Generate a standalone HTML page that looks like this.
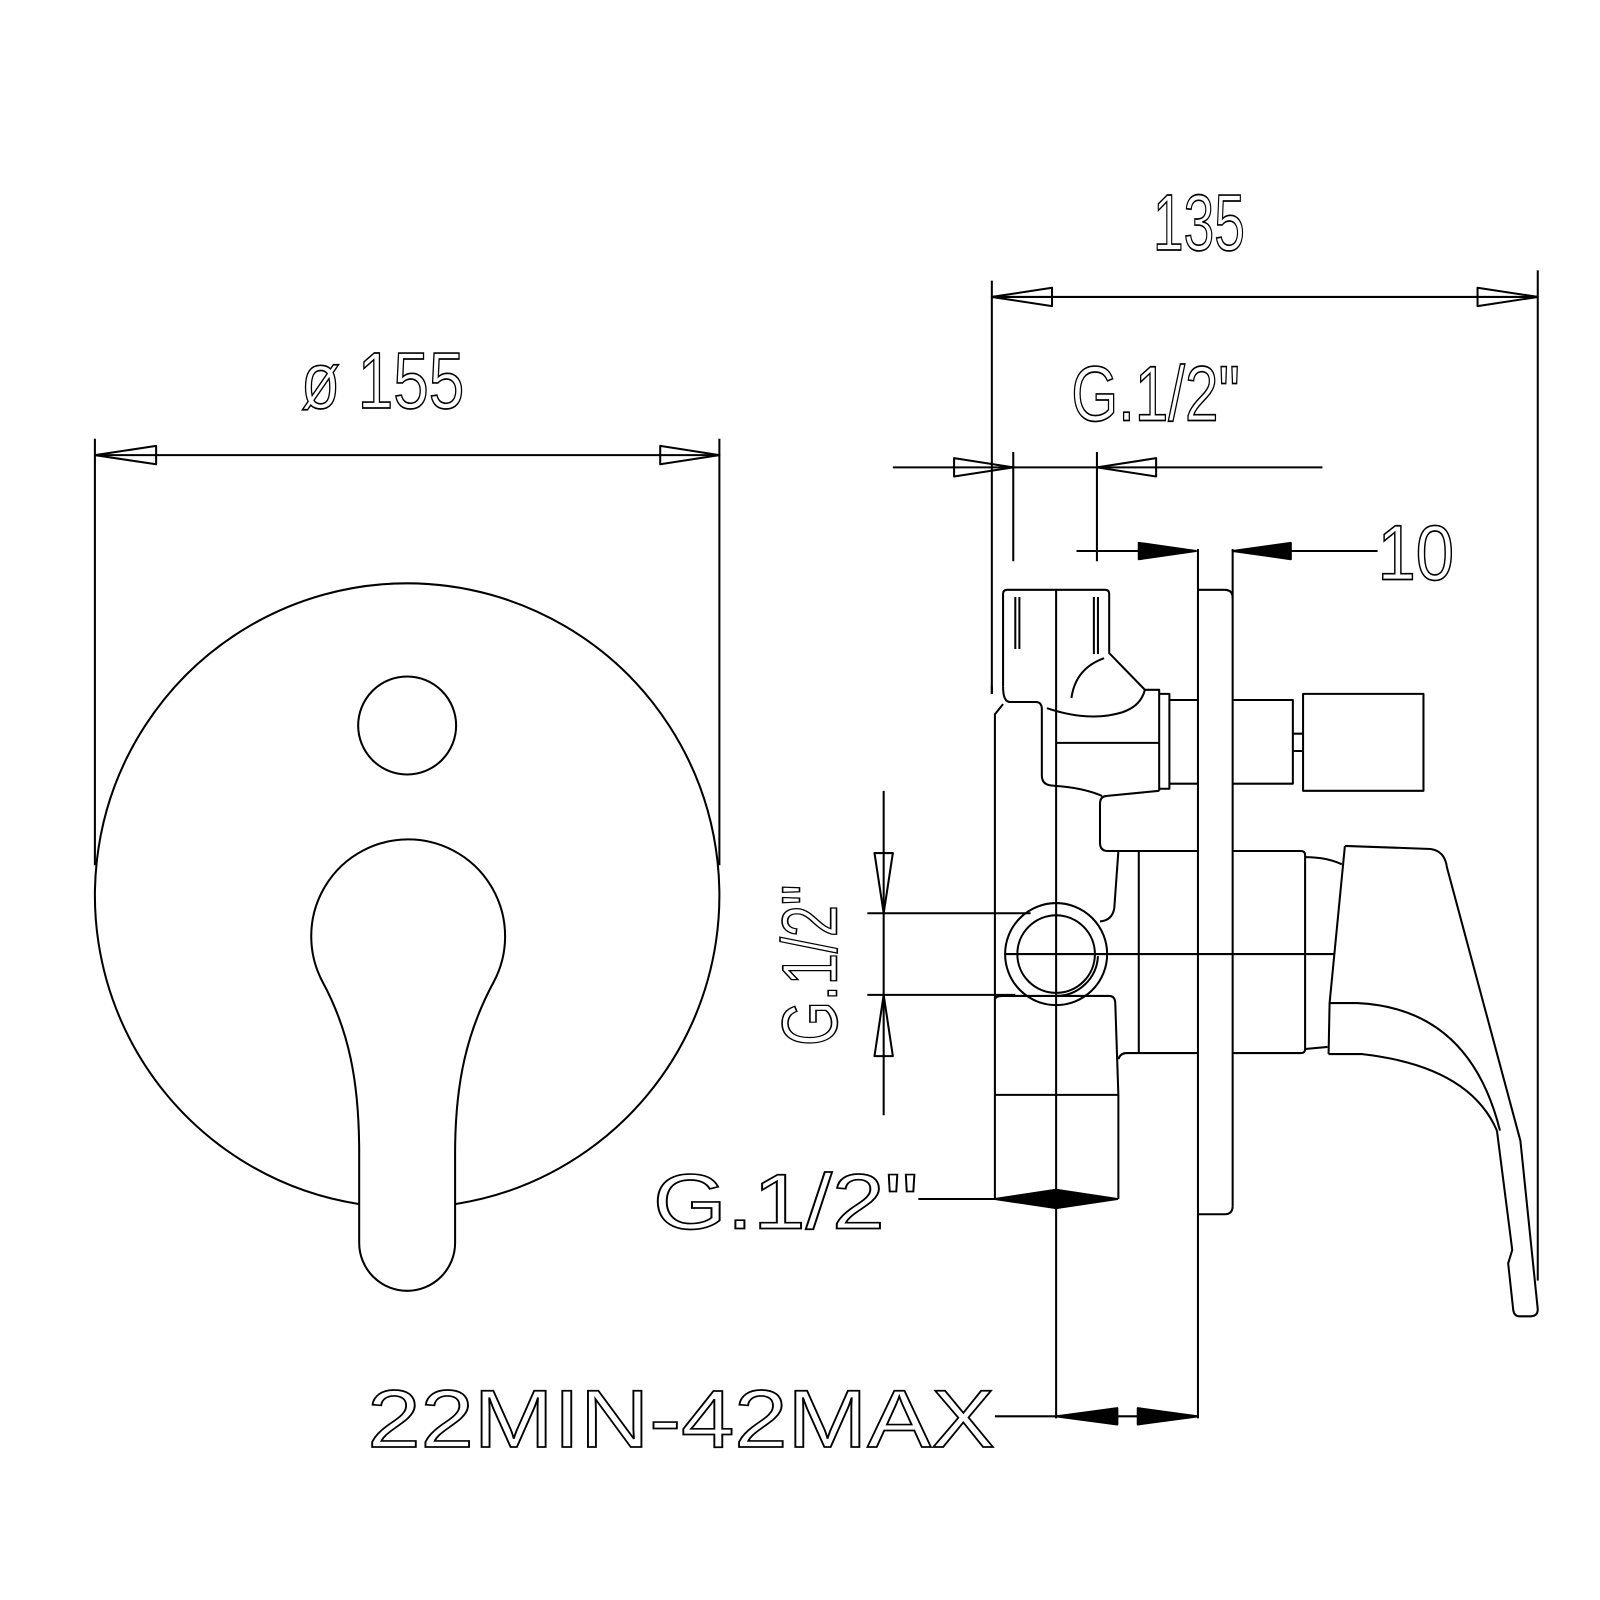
<!DOCTYPE html>
<html><head><meta charset="utf-8"><style>html,body{margin:0;padding:0;background:#fff}svg{display:block}</style></head>
<body>
<svg width="1600" height="1600" viewBox="0 0 1568 1568" xmlns="http://www.w3.org/2000/svg">
<g fill="none" stroke="#000" stroke-width="2" stroke-linejoin="round">
<!-- LEFT VIEW -->
<line x1="93" y1="430" x2="93" y2="848"/>
<line x1="705" y1="430" x2="705" y2="848"/>
<line x1="93" y1="446" x2="705" y2="446"/>
<polygon points="93,446 153,437 153,455"/>
<polygon points="705,446 647,437 647,455"/>
<path d="M352 1180 A306 306 0 1 1 446 1180"/>
<circle cx="399" cy="711" r="48"/>
<path d="M352 1218 L352 1130 C352 1060 342 1010 316 962 A95 95 0 1 1 484 962 C458 1010 446 1060 446 1130 L446 1218 A47 47 0 0 1 352 1218 Z"/>

<!-- RIGHT VIEW dims -->
<line x1="972" y1="275" x2="972" y2="680"/>
<line x1="1507" y1="265" x2="1507" y2="1255"/>
<line x1="972" y1="291" x2="1507" y2="291"/>
<polygon points="972,291 1031,282 1031,300"/>
<polygon points="1507,291 1448,282 1448,300"/>

<line x1="875" y1="458" x2="1296" y2="458"/>
<polygon points="993,458 935,449 935,467"/>
<polygon points="1075,458 1133,449 1133,467"/>
<line x1="993" y1="443" x2="993" y2="550"/>
<line x1="1075" y1="443" x2="1075" y2="550"/>

<line x1="1055" y1="540" x2="1172" y2="540"/>
<line x1="1208" y1="540" x2="1350" y2="540"/>
<polygon points="1172,540 1116,532 1116,548" fill="#000"/>
<polygon points="1208,540 1265,532 1265,548" fill="#000"/>

<line x1="1174" y1="538" x2="1174" y2="1390"/>
<line x1="1208" y1="538" x2="1208" y2="1182"/>
<path d="M1174 578 L1200 578 Q1208 578 1208 586 M1208 1182 Q1208 1190 1200 1190 L1174 1190"/>
<line x1="1035" y1="578" x2="1035" y2="1390"/>

<!-- body top -->
<path d="M972 680 L972 672 M983 673 L983 582 Q983 578 987 578 L1083 578 Q1087 578 1087 582 L1087 640 L1122 676 L1136 676 L1136 775"/>
<path d="M983 673 Q983 688 990 688 L1015 688 Q1021 688 1021 695 L1021 760 Q1021 770 1033 770 Q1062 772 1080 780"/>
<path d="M995 585 L995 636 M999 585 L999 636 M1072 585 L1072 641 M1076 585 L1076 641"/>
<path d="M1082 645 Q1054 655 1050 684"/>
<path d="M1026 694 Q1068 708 1100 698 Q1118 692 1122 676"/>
<line x1="1035" y1="728" x2="1136" y2="728"/>
<path d="M1136 680 L1146 680 L1146 773 L1136 773"/>
<line x1="1146" y1="686" x2="1174" y2="686"/>
<line x1="1146" y1="768" x2="1174" y2="768"/>
<path d="M1136 775 L1085 780 Q1078 780 1078 788 L1078 826 Q1078 834 1086 834 L1174 834"/>
<!-- left body -->
<path d="M983 690 L975 700 L975 1073 L1096 1073"/>
<path d="M1096 834 L1092 890 Q1090 902 1078 903"/>
<path d="M975 980 Q975 976 982 976 L1087 976 Q1093 976 1093 984 L1096 1073"/>
<path d="M1096 1038 Q1098 1032 1104 1032 L1174 1032"/>
<line x1="1116" y1="834" x2="1116" y2="1032"/>
<line x1="975" y1="1073" x2="975" y2="1175"/>
<line x1="1096" y1="1073" x2="1096" y2="1175"/>
<circle cx="1035" cy="935" r="50"/>
<circle cx="1035" cy="935" r="38"/>
<path d="M1035 976 A41 41 0 0 0 1076 937"/>
<line x1="985" y1="935" x2="1308" y2="935"/>
<!-- right parts -->
<path d="M1208 686 L1267 686 L1267 768 L1208 768"/>
<path d="M1267 719 L1277 719 M1267 736 L1277 736"/>
<rect x="1277" y="680" width="118" height="95"/>
<path d="M1208 834 L1275 834 Q1279 834 1279 838 L1279 1028 Q1279 1032 1275 1032 L1208 1032"/>
<path d="M1279 840 Q1300 840 1315 847"/>
<path d="M1279 1028 L1301 1026"/>
<!-- lever -->
<path d="M1318 829 L1402 832 Q1416 834 1418 850 L1490 1118 L1507 1283 Q1507 1290 1500 1290 L1489 1290 Q1484 1290 1483 1284 L1478 1238 L1482 1225 L1467 1108"/>
<path d="M1318 829 L1303 983 L1302 1033"/>
<path d="M1303 983 L1330 983 Q1440 988 1470 1108"/>
<path d="M1302 1033 L1335 1033 Q1440 1045 1467 1108"/>
<!-- vertical G dim -->
<line x1="866" y1="775" x2="866" y2="1093"/>
<line x1="850" y1="895" x2="1010" y2="895"/>
<line x1="850" y1="975" x2="995" y2="975"/>
<polygon points="866,895 857,836 875,836"/>
<polygon points="866,975 857,1035 875,1035"/>
<!-- bottom dims -->
<line x1="900" y1="1175" x2="975" y2="1175"/>
<polygon points="975,1175 1035,1166 1095,1175 1035,1184" fill="#000"/>
<line x1="975" y1="1388" x2="1174" y2="1388"/>
<polygon points="1035,1388 1095,1380 1095,1396" fill="#000"/>
<polygon points="1174,1388 1115,1380 1115,1396" fill="#000"/>
</g>
<g font-family="Liberation Sans, sans-serif" fill="none" stroke="#000" stroke-width="1.6">
<text x="295" y="400" font-size="78" textLength="160" lengthAdjust="spacingAndGlyphs">ø 155</text>
<text x="1130" y="245" font-size="78" textLength="90" lengthAdjust="spacingAndGlyphs">135</text>
<text x="1050" y="412" font-size="76" textLength="165" lengthAdjust="spacingAndGlyphs">G.1/2"</text>
<text x="1350" y="568" font-size="76" textLength="75" lengthAdjust="spacingAndGlyphs">10</text>
<text x="640" y="1204" font-size="76" textLength="260" lengthAdjust="spacingAndGlyphs">G.1/2"</text>
<text x="360" y="1418" font-size="80" textLength="615" lengthAdjust="spacingAndGlyphs">22MIN-42MAX</text>
<text transform="translate(820,1025) rotate(-90)" font-size="76" textLength="158" lengthAdjust="spacingAndGlyphs">G.1/2"</text>
</g>
</svg>
</body></html>
